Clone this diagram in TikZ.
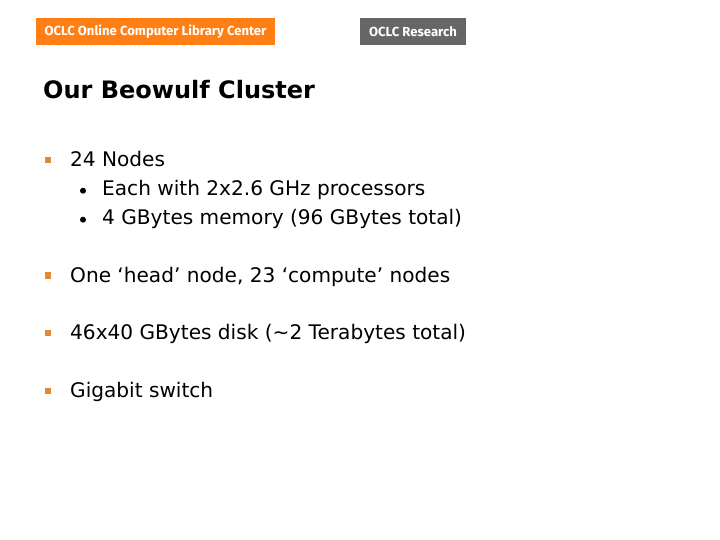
\documentclass[tikz,border=0pt]{standalone}
\usepackage{fontspec}
\setmainfont{DejaVu Sans}
\newfontfamily\logofont{Fira Sans}
\usetikzlibrary{positioning}
\definecolor{oclcorange}{RGB}{255,127,20}
\definecolor{oclcgray}{RGB}{102,102,102}
\definecolor{bulletorange}{RGB}{228,135,55}
\tikzset{
	logobox/.style={inner sep=0, minimum height=27bp, text=white, font=\logofont\bfseries\fontsize{13.1bp}{15bp}\selectfont},
	titletext/.style={anchor=base west, inner sep=0, font=\bfseries\fontsize{24bp}{28bp}\selectfont},
	itemtext/.style={anchor=base west, inner sep=0, font=\fontsize{20.1bp}{24bp}\selectfont},
	squarebullet/.style={fill=bulletorange, inner sep=0, minimum size=6.2bp},
	roundbullet/.style={circle, fill=black, inner sep=0, minimum size=6bp}
}
\begin{document}
\begin{tikzpicture}[x=1bp, y=1bp]
	\useasboundingbox (0, 0) rectangle (720, 540);

	\node [logobox, fill=oclcorange, minimum width=239bp] (orangelogo) at (155.5, 508.5) {OCLC Online Computer Library Center};
	\node [logobox, fill=oclcgray, minimum width=106bp] (graylogo) at (413, 508.5) {OCLC Research};

	\node [titletext] (title) at (43, 441.5) {Our Beowulf Cluster};

	\node [squarebullet] (b1) at (48, 380) {};
	\node [itemtext] (t1) at (70, 373.5) {24 Nodes};
	\node [roundbullet] (s1) at (83, 349.3) {};
	\node [itemtext] (t1a) at (102, 344.5) {Each with 2x2.6 GHz processors};
	\node [roundbullet] (s2) at (83, 320.3) {};
	\node [itemtext] (t1b) at (102, 315.5) {4 GBytes memory (96 GBytes total)};

	\node [squarebullet] (b2) at (48, 264.5) {};
	\node [itemtext] (t2) at (70, 257.5) {One ‘head’ node, 23 ‘compute’ nodes};

	\node [squarebullet] (b3) at (48, 207.3) {};
	\node [itemtext] (t3) at (70, 200.5) {46x40 GBytes disk (\textasciitilde 2 Terabytes total)};

	\node [squarebullet] (b4) at (48, 149.3) {};
	\node [itemtext] (t4) at (70, 142.5) {Gigabit switch};
\end{tikzpicture}
\end{document}
